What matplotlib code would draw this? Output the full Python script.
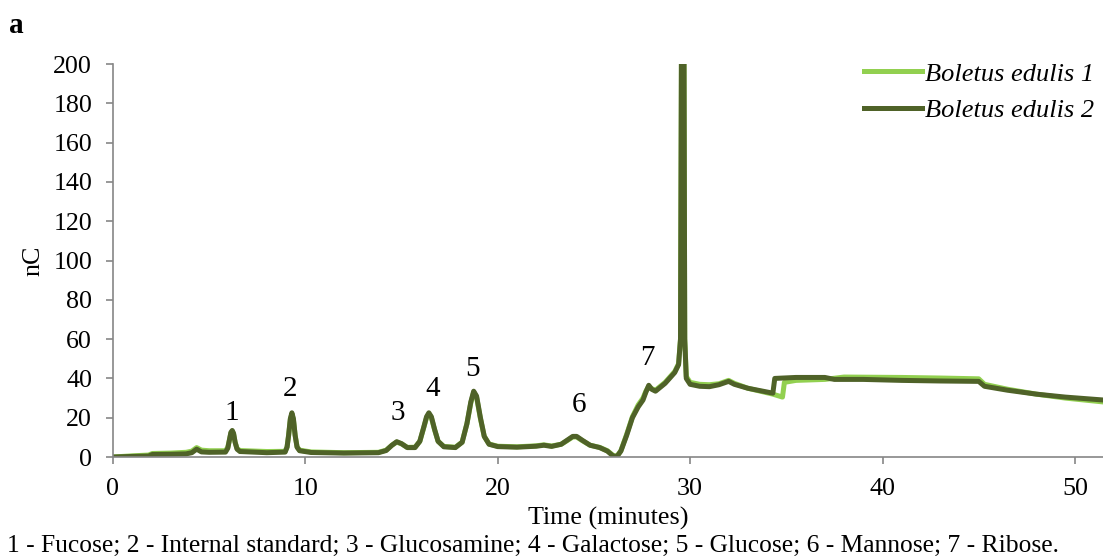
import matplotlib
matplotlib.use('Agg')
import matplotlib.pyplot as plt

# chromatogram (time in minutes, signal in nC)
time_2 = [0, 1.0, 1.85, 2.05, 3.0, 3.8, 4.1, 4.35, 4.6, 5.0, 5.85, 5.97, 6.05, 6.13, 6.2,
          6.27, 6.35, 6.45, 6.6, 8.0, 8.95, 9.05, 9.13, 9.22, 9.3, 9.38, 9.47, 9.57, 9.7,
          10.3, 12.0, 13.8, 14.2, 14.5, 14.75, 15.0, 15.3, 15.7, 15.95, 16.15, 16.3, 16.42,
          16.55, 16.72, 16.9, 17.2, 17.8, 18.15, 18.4, 18.6, 18.75, 18.9, 19.1, 19.3, 19.55,
          20.0, 21.0, 22.0, 22.4, 22.8, 23.3, 23.6, 23.9, 24.1, 24.4, 24.8, 25.3, 25.7, 26.0,
          26.2, 26.4, 26.7, 27.0, 27.3, 27.55, 27.7, 27.85, 28.0, 28.2, 28.7, 29.2, 29.4,
          29.5, 29.55, 29.68, 29.72, 29.8, 30.0, 30.5, 31.0, 31.5, 32.0, 32.3, 33.0, 34.3,
          34.4, 35.5, 37.0, 37.5, 39.0, 41.0, 43.0, 45.0, 45.3, 46.5, 48.0, 49.5, 51.5]
edulis_2 = [0, 0.3, 0.5, 1.3, 1.4, 1.6, 2.2, 4.0, 2.6, 2.4, 2.5, 4.5, 8.5, 12.5, 13.5,
            12, 7.5, 4, 2.8, 2.2, 2.5, 5, 11, 19.5, 22.5, 19.5, 11, 5, 3.2,
            2.3, 2.0, 2.2, 3.3, 6, 7.8, 6.8, 4.8, 4.8, 8, 15, 20.5, 22.5,
            20.5, 14, 8, 5.2, 4.8, 7.5, 17, 28, 33.5, 31, 20, 10.5, 6.5,
            5.3, 5, 5.5, 6, 5.4, 6.5, 8.5, 10.5, 10.5, 8.5, 6, 4.8, 3, 0.5,
            0.3, 3, 11, 20, 25.5, 29, 33, 36.5, 34.5, 33.5, 37.5, 43, 47,
            60, 210, 210, 60, 40, 37, 36, 35.8, 36.8, 38.5, 37, 35, 32.5,
            40, 40.5, 40.5, 39.5, 39.5, 39, 38.7, 38.5, 36, 34, 32, 30.5, 29]

time_1 = [0, 1.0, 1.85, 2.05, 3.0, 3.8, 4.1, 4.35, 4.6, 5.0, 5.85, 5.97, 6.05, 6.13, 6.2,
          6.27, 6.35, 6.45, 6.6, 8.0, 8.95, 9.05, 9.13, 9.22, 9.3, 9.38, 9.47, 9.57, 9.7,
          10.3, 12.0, 13.8, 14.2, 14.5, 14.75, 15.0, 15.3, 15.7, 15.95, 16.15, 16.3, 16.42,
          16.55, 16.72, 16.9, 17.2, 17.8, 18.15, 18.4, 18.6, 18.75, 18.9, 19.1, 19.3, 19.55,
          20.0, 21.0, 22.0, 22.4, 22.8, 23.3, 23.6, 23.9, 24.1, 24.4, 24.8, 25.3, 25.7, 26.0,
          26.2, 26.4, 26.7, 27.0, 27.3, 27.55, 27.7, 27.85, 28.0, 28.2, 28.7, 29.2, 29.4,
          29.5, 29.55, 29.68, 29.72, 29.8, 30.0, 30.5, 31.0, 31.5, 32.0, 32.3, 33.0, 34.3,
          34.8, 34.9, 35.5, 37.0, 38.0, 41.0, 43.0, 45.0, 45.3, 46.5, 48.0, 49.5, 51.5]
edulis_1 = [0, 0.6, 1.0, 1.8, 2.0, 2.4, 3.0, 4.8, 3.5, 3.2, 3.2, 5, 8.5, 12.2, 13.2,
            11.8, 7.5, 4.4, 3.3, 2.8, 2.9, 5.2, 11, 19, 22, 19, 11, 5.2, 3.5,
            2.6, 2.2, 2.4, 3.5, 6, 7.6, 6.7, 4.9, 5, 8, 14.8, 20, 22,
            20, 13.8, 8, 5.4, 5, 7.6, 17, 27.5, 33, 30.5, 19.5, 10.5, 6.6,
            5.5, 5.2, 5.7, 6.2, 5.6, 6.5, 8.3, 10.2, 10.2, 8.3, 6, 4.9, 3.2, 0.8,
            0.5, 3.2, 11.5, 20.5, 26.5, 30, 33.5, 36, 34.8, 34, 38, 43.5, 47.5,
            60, 210, 210, 60, 41, 38, 37, 36.8, 37.3, 39, 37.5, 35, 32,
            30.5, 38, 39, 39.5, 40.7, 40.5, 40.2, 39.8, 37, 34.5, 32, 30, 28]

species = ['Boletus edulis 1', 'Boletus edulis 2']
peak_labels = ['1', '2', '3', '4', '5', '6', '7']
peak_x = [6.2, 9.2, 14.8, 16.6, 18.7, 24.2, 27.8]
peak_y = [16, 28, 16, 28, 38, 20, 44]
caption = ('1 - Fucose; 2 - Internal standard; 3 - Glucosamine; 4 - Galactose; '
           '5 - Glucose; 6 - Mannose; 7 - Ribose.')

plt.rcParams['font.family'] = ['Liberation Serif', 'DejaVu Serif']
fs = 18.7

fig = plt.figure(figsize=(11.03, 5.57), dpi=100)
ax = fig.add_axes([0.1024, 0.1795, 0.8976, 0.7055])

ax.plot(time_1, edulis_1, color='#92d050', lw=3.6, label=species[0], solid_joinstyle='round')
ax.plot(time_2, edulis_2, color='#4f6228', lw=3.6, label=species[1], solid_joinstyle='round')

for lab, px, py in zip(peak_labels, peak_x, peak_y):
    ax.text(px, py, lab, ha='center', va='bottom', fontsize=21)

ax.set_xlim(0, 51.46)
ax.set_ylim(0, 200)
ax.set_xticks([0, 10, 20, 30, 40, 50])
ax.set_yticks(range(0, 201, 20))
ax.tick_params(axis='both', labelsize=fs, colors='#868686', labelcolor='black',
               length=5, width=1.2, direction='out')
ax.tick_params(axis='x', pad=10)
ax.tick_params(axis='y', pad=10)
for side in ['top', 'right']:
    ax.spines[side].set_visible(False)
for side in ['left', 'bottom']:
    ax.spines[side].set_color('#868686')
    ax.spines[side].set_linewidth(1.2)

ax.set_xlabel('Time (minutes)', fontsize=fs, labelpad=5)
ax.set_ylabel('nC', fontsize=fs, labelpad=6)

leg = ax.legend(loc='upper right', bbox_to_anchor=(1.015, 1.065), frameon=False,
                handlelength=2.2, handletextpad=0.1, labelspacing=0.5,
                prop={'style': 'italic', 'size': 19})

fig.text(0.008, 0.955, 'a', fontsize=21, fontweight='bold', va='center')
fig.text(0.006, 0.02, caption, fontsize=18.4, va='center')

fig.savefig('out.png', dpi=100)
